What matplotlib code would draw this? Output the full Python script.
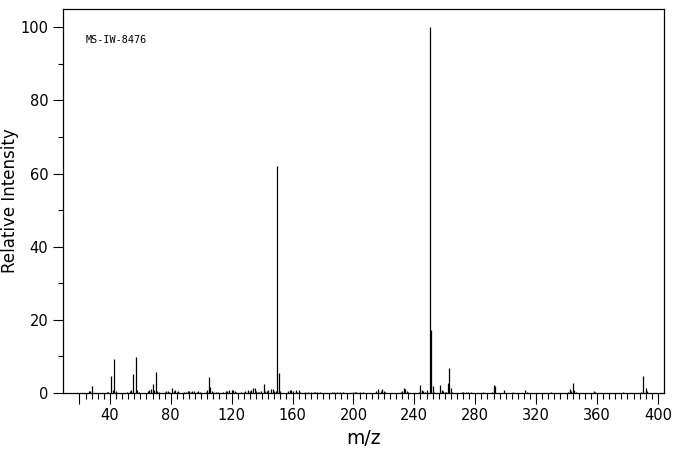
import matplotlib
matplotlib.use("Agg")
import matplotlib.pyplot as plt
from matplotlib.ticker import FixedLocator, FixedFormatter

mz = [26, 27, 28, 38, 39, 41, 42, 43, 44, 51, 53, 54, 55, 57, 58, 59,
      65, 66, 67, 68, 69, 70, 71, 72, 76, 77, 78, 79, 81, 82, 83, 84, 85,
      89, 90, 91, 92, 93, 94, 95, 97, 98, 99, 103, 104, 105, 106, 107, 108, 110,
      111, 114, 116, 117, 118, 120, 121, 122, 123, 126, 128, 129, 131, 132, 133, 134,
      135, 136, 137, 138, 139, 141, 142, 143, 144, 146, 147, 148, 149, 150, 151, 152,
      157, 158, 159, 160, 162, 163, 164, 165, 168, 170, 172, 174, 175, 176, 178,
      186, 187, 189, 191, 193, 200, 201, 202, 204, 206,
      215, 216, 218, 219, 220, 221, 231, 232, 233, 234, 235, 236,
      243, 244, 245, 246, 247, 248, 250, 251, 252, 253, 257, 258, 259, 260, 261,
      262, 263, 264, 265, 271, 272, 274, 275, 277, 285, 291, 292, 293, 299, 305,
      313, 314, 330, 341, 342, 343, 344, 345, 346, 358, 359, 377, 389, 390, 392, 393]
intensity = [0.5, 0.5, 1.9, 0.3, 0.3, 4.6, 0.7, 9.3, 0.5, 0.3, 0.5, 0.7, 5.2, 9.8, 0.7, 0.3,
             0.5, 0.7, 1.1, 2.5, 0.7, 5.7, 0.5, 0.3, 0.3, 0.5, 0.5, 0.3, 1.4, 0.5, 0.9, 0.3, 0.5,
             0.3, 0.3, 0.5, 0.5, 0.3, 0.5, 0.5, 0.3, 0.5, 0.3, 0.3, 0.7, 4.4, 1.6, 0.5, 0.3, 0.3,
             0.3, 0.3, 0.5, 0.5, 0.7, 0.9, 0.7, 0.5, 0.3, 0.3, 0.3, 0.5, 0.7, 0.5, 0.9, 1.4,
             1.4, 0.5, 0.3, 0.3, 0.5, 2.5, 0.5, 0.5, 0.9, 1.1, 1.1, 0.5, 0.5, 62.0, 5.5, 0.5,
             0.5, 0.7, 0.9, 0.5, 0.7, 0.3, 0.9, 0.3, 0.2, 0.2, 0.3, 0.3, 0.3, 0.3, 0.2,
             0.3, 0.3, 0.3, 0.3, 0.2, 0.3, 0.3, 0.3, 0.3, 0.2,
             0.5, 1.1, 0.5, 1.1, 0.5, 0.3, 0.2, 0.5, 1.4, 1.1, 0.5, 0.3,
             0.2, 2.2, 0.7, 0.5, 0.3, 0.7, 100.0, 17.2, 1.9, 0.2, 2.1, 0.7, 0.5, 0.3, 0.3,
             2.7, 6.8, 1.3, 0.3, 0.2, 0.3, 0.2, 0.3, 0.2, 0.2, 0.3, 2.2, 2.0, 0.7, 0.2,
             0.7, 0.3, 0.3, 0.3, 1.1, 0.5, 2.7, 0.7, 0.3, 0.5, 0.3, 0.3, 0.3, 4.6, 1.4, 0.5]

x_major = [20, 40, 80, 120, 160, 200, 240, 280, 320, 360, 400]
x_major_labels = ["", "40", "80", "120", "160", "200", "240", "280", "320", "360", "400"]
x_minor = list(range(20, 401, 4))
y_major = [0, 20, 40, 60, 80, 100]
y_minor = [10, 30, 50, 70, 90]
sample_id = "MS-IW-8476"

fig = plt.figure(figsize=(6.76, 4.55), dpi=100)
ax = fig.add_axes([63 / 676, 1 - 393 / 455, 601 / 676, 384 / 455])

ax.vlines(mz, 0, intensity, colors="black", linewidth=0.9)

ax.set_xlim(9.2, 404)
ax.set_ylim(0, 105)

ax.xaxis.set_major_locator(FixedLocator(x_major))
ax.xaxis.set_major_formatter(FixedFormatter(x_major_labels))
ax.xaxis.set_minor_locator(FixedLocator(x_minor))
ax.yaxis.set_major_locator(FixedLocator(y_major))
ax.yaxis.set_minor_locator(FixedLocator(y_minor))

ax.tick_params(axis="x", which="major", direction="out", length=8, width=0.8,
               labelsize=10.5, pad=3, color="black")
ax.tick_params(axis="x", which="minor", direction="out", length=4.2, width=0.8)
ax.tick_params(axis="y", which="major", direction="out", length=7.5, width=0.8,
               labelsize=10.5, pad=3)
ax.tick_params(axis="y", which="minor", direction="out", length=3.8, width=0.8)

for s in ax.spines.values():
    s.set_linewidth(0.9)

ax.set_xlabel("m/z", fontsize=13.5)
ax.xaxis.set_label_coords(0.5, -(429 - 393) / 384, transform=ax.transAxes)
ax.set_ylabel("Relative Intensity", fontsize=12)
ax.yaxis.set_label_coords(-(63 - 19) / 601, 0.5, transform=ax.transAxes)

ax.text((86 - 63) / 601, (393 - 40) / 384, sample_id, transform=ax.transAxes,
        fontsize=7.3, family="DejaVu Sans Mono", va="center", ha="left")

fig.savefig("out.png", dpi=100)
